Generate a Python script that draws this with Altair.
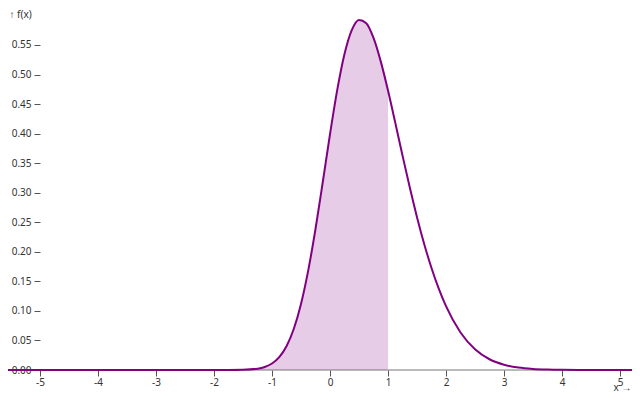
import altair as alt
import pandas as pd

# x positions and density values
xs = [-6.0, -5.0, -4.0, -3.0, -2.5, -2.0, -1.75, -1.5, -1.25, -1.125, -1.0, -0.875, -0.75,
      -0.625, -0.5, -0.375, -0.25, -0.125, 0.0, 0.125, 0.25, 0.375, 0.5, 0.625,
      0.75, 0.875, 1.0, 1.125, 1.25, 1.375, 1.5, 1.625, 1.75, 1.875, 2.0, 2.25,
      2.5, 2.75, 3.0, 3.25, 3.5, 3.75, 4.0, 4.5, 5.0, 6.0]
fx = [0.0, 0.0, 0.0, 0.0, 0.0, 0.000004, 0.00004, 0.00035, 0.00227, 0.00518, 0.01101, 0.0218, 0.04024,
      0.06934, 0.11172, 0.16855, 0.23861, 0.31769, 0.39894, 0.47399, 0.53473, 0.57515, 0.59242, 0.58698,
      0.56204, 0.5223, 0.47293, 0.41858, 0.36303, 0.30912, 0.25869, 0.21296, 0.17252, 0.13757, 0.10798, 0.06348,
      0.03506, 0.01818, 0.00886, 0.00406, 0.00175, 0.0007, 0.00027, 0.00003, 0.0, 0.0]

x_ticks = [-5, -4, -3, -2, -1, 0, 1, 2, 3, 4, 5]
y_ticks = [0.0, 0.05, 0.1, 0.15, 0.2, 0.25, 0.3, 0.35, 0.4, 0.45, 0.5, 0.55]
cutoff = 1.0

df = pd.DataFrame({"x": xs, "f": fx})
df_area = df[df["x"] <= cutoff]

FONT = "Noto Sans"

xscale = alt.Scale(domain=[-5, 5], nice=False, zero=False)
yscale = alt.Scale(domain=[0, 0.5923], nice=False)

xaxis = alt.Axis(values=x_ticks, labelExpr="'' + datum.value", domain=False, grid=False,
                 tickSize=6, tickColor="#555", labelColor="#333", labelFontSize=10, labelFont=FONT,
                 labelPadding=1, labelOverlap=False, labelFlush=False,
                 title="x →", titleFont=FONT, titleFontSize=10, titleFontWeight="normal",
                 titleColor="#333", titleAlign="right", titleAnchor="end", titleX=591, titleY=20,
                 titleBaseline="alphabetic")
yaxis = alt.Axis(values=y_ticks, format=".2f", domain=False, grid=False,
                 tickSize=6, tickColor="#555", labelColor="#333", labelFontSize=10, labelFont=FONT,
                 labelPadding=3, labelOverlap=False,
                 title="↑ f(x)", titleFont=FONT, titleFontSize=10, titleFontWeight="normal",
                 titleColor="#333", titleAngle=0, titleAlign="left", titleX=-31, titleY=-6,
                 titleBaseline="middle")

area = alt.Chart(df_area).mark_area(color="purple", opacity=0.2, interpolate="monotone").encode(
    x=alt.X("x:Q", scale=xscale, axis=xaxis),
    y=alt.Y("f:Q", scale=yscale, axis=yaxis),
)

rule = alt.Chart(pd.DataFrame({"y": [0.0]})).mark_rule(color="#777", strokeWidth=1).encode(
    y=alt.Y("y:Q", scale=yscale, axis=yaxis, title="↑ f(x)"),
    x=alt.value(0), x2=alt.value(580),
)

line = alt.Chart(df).mark_line(color="purple", strokeWidth=2, interpolate="monotone").encode(
    x=alt.X("x:Q", scale=xscale, axis=xaxis),
    y=alt.Y("f:Q", scale=yscale, axis=yaxis),
)

chart = alt.layer(area, rule, line).properties(
    width=580, height=350,
    autosize=alt.AutoSizeParams(type="none"),
    padding={"left": 32, "top": 12, "right": 12, "bottom": 22},
).configure_view(stroke=None)

chart.save("out.html", embed_options={"renderer": "svg", "actions": False})
